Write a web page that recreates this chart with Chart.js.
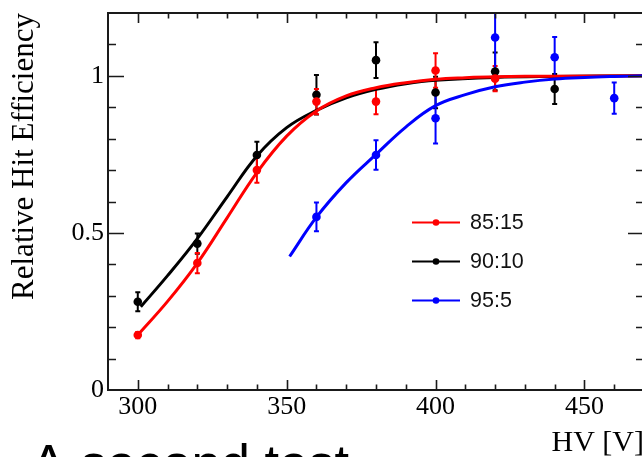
<!DOCTYPE html>
<html>
<head>
<meta charset="utf-8">
<title>Relative Hit Efficiency vs HV</title>
<script src="https://cdn.jsdelivr.net/npm/chart.js@4"></script>
<style>
  html, body { margin: 0; padding: 0; background: #fff; overflow: hidden; }
  canvas { display: block; }
</style>
</head>
<body>
<canvas id="c" width="660" height="489"></canvas>
<script>
// Gas mixtures and their colours
const seriesNames = ['85:15', '90:10', '95:5'];
const seriesColors = ['#ff0000', '#000000', '#0000ff'];

// Measured relative hit efficiency (value and error) per HV step
const hv8515 = [300, 320, 340, 360, 380, 400, 420];
const eff8515 = [0.175, 0.404, 0.700, 0.918, 0.918, 1.017, 0.991];
const err8515 = [0.010, 0.032, 0.040, 0.040, 0.040, 0.055, 0.040];

const hv9010 = [300, 320, 340, 360, 380, 400, 420, 440];
const eff9010 = [0.281, 0.466, 0.748, 0.940, 1.050, 0.947, 1.014, 0.958];
const err9010 = [0.030, 0.032, 0.042, 0.063, 0.057, 0.050, 0.060, 0.048];

const hv955 = [360, 380, 400, 420, 440, 460];
const eff955 = [0.551, 0.748, 0.865, 1.122, 1.059, 0.929];
const err955 = [0.046, 0.047, 0.080, 0.110, 0.065, 0.050];

// Fitted turn-on curves
const fitHv8515 = [300, 310, 320, 330, 340, 350, 360, 370, 380, 390, 400, 410, 420, 440, 470];
const fitEff8515 = [0.175, 0.282, 0.404, 0.548, 0.692, 0.808, 0.888, 0.936, 0.962, 0.978, 0.989, 0.994, 0.997, 0.999, 1.000];
const fitHv9010 = [301, 310, 320, 330, 340, 350, 360, 370, 380, 390, 400, 420, 440, 470];
const fitEff9010 = [0.265, 0.364, 0.482, 0.615, 0.745, 0.835, 0.890, 0.930, 0.957, 0.975, 0.986, 0.995, 0.998, 1.000];
const fitHv955 = [351, 360, 370, 380, 390, 400, 410, 420, 430, 440, 450, 460, 470];
const fitEff955 = [0.425, 0.550, 0.660, 0.750, 0.837, 0.905, 0.940, 0.965, 0.980, 0.990, 0.995, 0.998, 1.000];

// Axis ranges and labelled ticks
const xRange = [290, 470];
const yRange = [0, 1.2];
const xTicks = [300, 350, 400, 450];
const yTicks = [0, 0.5, 1];
const xMinorStep = 10;
const yMinorStep = 0.1;

const SERIF = "'Liberation Serif', 'Times New Roman', serif";
const SANS = "'Liberation Sans', Arial, sans-serif";

const pts = (xs, ys) => xs.map((v, i) => ({ x: v, y: ys[i] }));

function markerSet(i, xs, ys, errs, order) {
  return {
    label: seriesNames[i],
    data: pts(xs, ys),
    errors: errs,
    borderColor: seriesColors[i],
    backgroundColor: seriesColors[i],
    pointRadius: 4.3,
    pointBorderWidth: 0,
    pointHoverRadius: 4.3,
    showLine: false,
    order: order
  };
}

function fitSet(i, xs, ys, order) {
  return {
    label: seriesNames[i] + ' fit',
    data: pts(xs, ys),
    borderColor: seriesColors[i],
    backgroundColor: seriesColors[i],
    borderWidth: 3,
    pointRadius: 0,
    pointHoverRadius: 0,
    showLine: true,
    fill: false,
    tension: 0.4,
    order: order
  };
}

// Vertical error bars with small end caps, under the markers
const errorBars = {
  id: 'errorBars',
  beforeDatasetsDraw(chart) {
    const { ctx, chartArea: a, scales: { x, y } } = chart;
    ctx.save();
    ctx.beginPath();
    ctx.rect(a.left, a.top, a.right - a.left, a.bottom - a.top);
    ctx.clip();
    chart.data.datasets.forEach(ds => {
      if (!ds.errors) return;
      ctx.strokeStyle = ds.borderColor;
      ctx.lineWidth = 2;
      ds.data.forEach((p, i) => {
        const px = x.getPixelForValue(p.x);
        const lo = y.getPixelForValue(p.y - ds.errors[i]);
        const hi = y.getPixelForValue(p.y + ds.errors[i]);
        ctx.beginPath();
        ctx.moveTo(px, lo); ctx.lineTo(px, hi);
        ctx.moveTo(px - 2.5, lo); ctx.lineTo(px + 2.5, lo);
        ctx.moveTo(px - 2.5, hi); ctx.lineTo(px + 2.5, hi);
        ctx.stroke();
      });
    });
    ctx.restore();
  }
};

// Closed frame with inward major/minor ticks on all four sides
const frameTicks = {
  id: 'frameTicks',
  afterDraw(chart) {
    const { ctx, chartArea: a, scales: { x, y } } = chart;
    ctx.save();
    ctx.strokeStyle = '#1a1a1a';
    ctx.lineWidth = 1.6;
    ctx.beginPath();
    const nx = Math.round((xRange[1] - xRange[0]) / xMinorStep);
    for (let i = 1; i < nx; i++) {
      const v = xRange[0] + i * xMinorStep;
      const px = Math.round(x.getPixelForValue(v)) + 0.5;
      const len = xTicks.includes(v) ? 10 : 5.5;
      ctx.moveTo(px, a.bottom); ctx.lineTo(px, a.bottom - len);
      ctx.moveTo(px, a.top); ctx.lineTo(px, a.top + len);
    }
    const ny = Math.round((yRange[1] - yRange[0]) / yMinorStep);
    for (let i = 1; i < ny; i++) {
      const v = Math.round((yRange[0] + i * yMinorStep) * 10) / 10;
      const py = Math.round(y.getPixelForValue(v)) + 0.5;
      const len = yTicks.includes(v) ? 16 : 8;
      ctx.moveTo(a.left, py); ctx.lineTo(a.left + len, py);
      ctx.moveTo(a.right, py); ctx.lineTo(a.right - len, py);
    }
    ctx.stroke();
    ctx.lineWidth = 2;
    ctx.strokeRect(a.left, a.top, a.right - a.left, a.bottom - a.top);
    ctx.restore();
  }
};

// Legend box inside the plot area
const legendBox = {
  id: 'legendBox',
  afterDraw(chart) {
    const { ctx, chartArea: a } = chart;
    ctx.save();
    ctx.font = '21.5px ' + SANS;
    ctx.textBaseline = 'middle';
    ctx.textAlign = 'left';
    seriesNames.forEach((name, i) => {
      const ly = a.top + 209.5 + i * 39;
      const x0 = a.left + 304, x1 = a.left + 352;
      ctx.strokeStyle = seriesColors[i];
      ctx.lineWidth = 2;
      ctx.beginPath();
      ctx.moveTo(x0, ly); ctx.lineTo(x1, ly);
      ctx.stroke();
      ctx.fillStyle = seriesColors[i];
      ctx.beginPath();
      ctx.arc((x0 + x1) / 2, ly, 3.3, 0, Math.PI * 2);
      ctx.fill();
      ctx.fillStyle = '#111';
      ctx.fillText(name, a.left + 362, ly + 1);
    });
    ctx.restore();
  }
};

new Chart(document.getElementById('c'), {
  type: 'scatter',
  data: {
    datasets: [
      fitSet(1, fitHv9010, fitEff9010, 6),
      fitSet(0, fitHv8515, fitEff8515, 5),
      fitSet(2, fitHv955, fitEff955, 4),
      markerSet(1, hv9010, eff9010, err9010, 3),
      markerSet(0, hv8515, eff8515, err8515, 2),
      markerSet(2, hv955, eff955, err955, 1)
    ]
  },
  options: {
    responsive: false,
    animation: false,
    devicePixelRatio: 1,
    events: [],
    layout: { autoPadding: false, padding: { left: 31, right: 16, top: 13, bottom: 0 } },
    plugins: {
      legend: { display: false },
      tooltip: { enabled: false },
      title: {
        display: true,
        text: 'A second test',
        position: 'bottom',
        align: 'start',
        color: '#000',
        padding: 0,
        font: { family: SANS, size: 52.5, weight: 'normal', lineHeight: 0.838 }
      }
    },
    scales: {
      x: {
        type: 'linear',
        min: xRange[0],
        max: xRange[1],
        grid: { display: false, drawTicks: false },
        border: { display: false },
        afterBuildTicks: s => { s.ticks = xTicks.map(v => ({ value: v })); },
        afterFit: s => { s.height = 55; s.paddingLeft = 0; s.paddingRight = 0; },
        ticks: {
          padding: 2,
          color: '#000',
          autoSkip: false,
          maxRotation: 0,
          font: { family: SERIF, size: 26 },
          callback: v => String(v)
        },
        title: {
          display: true,
          text: 'HV [V]',
          align: 'end',
          color: '#000',
          padding: { top: 0, bottom: -16 },
          font: { family: SERIF, size: 30 }
        }
      },
      y: {
        type: 'linear',
        min: yRange[0],
        max: yRange[1],
        grid: { display: false, drawTicks: false },
        border: { display: false },
        afterBuildTicks: s => { s.ticks = yTicks.map(v => ({ value: v })); },
        afterFit: s => { s.width = 77; s.paddingTop = 0; s.paddingBottom = 0; },
        ticks: {
          padding: 4,
          color: '#000',
          autoSkip: false,
          font: { family: SERIF, size: 26 },
          callback: v => String(v)
        },
        title: {
          display: true,
          text: 'Relative Hit Efficiency',
          align: 'end',
          color: '#000',
          padding: { top: -25, bottom: 0 },
          font: { family: SERIF, size: 31 }
        }
      }
    }
  },
  plugins: [errorBars, frameTicks, legendBox]
});
</script>
</body>
</html>
